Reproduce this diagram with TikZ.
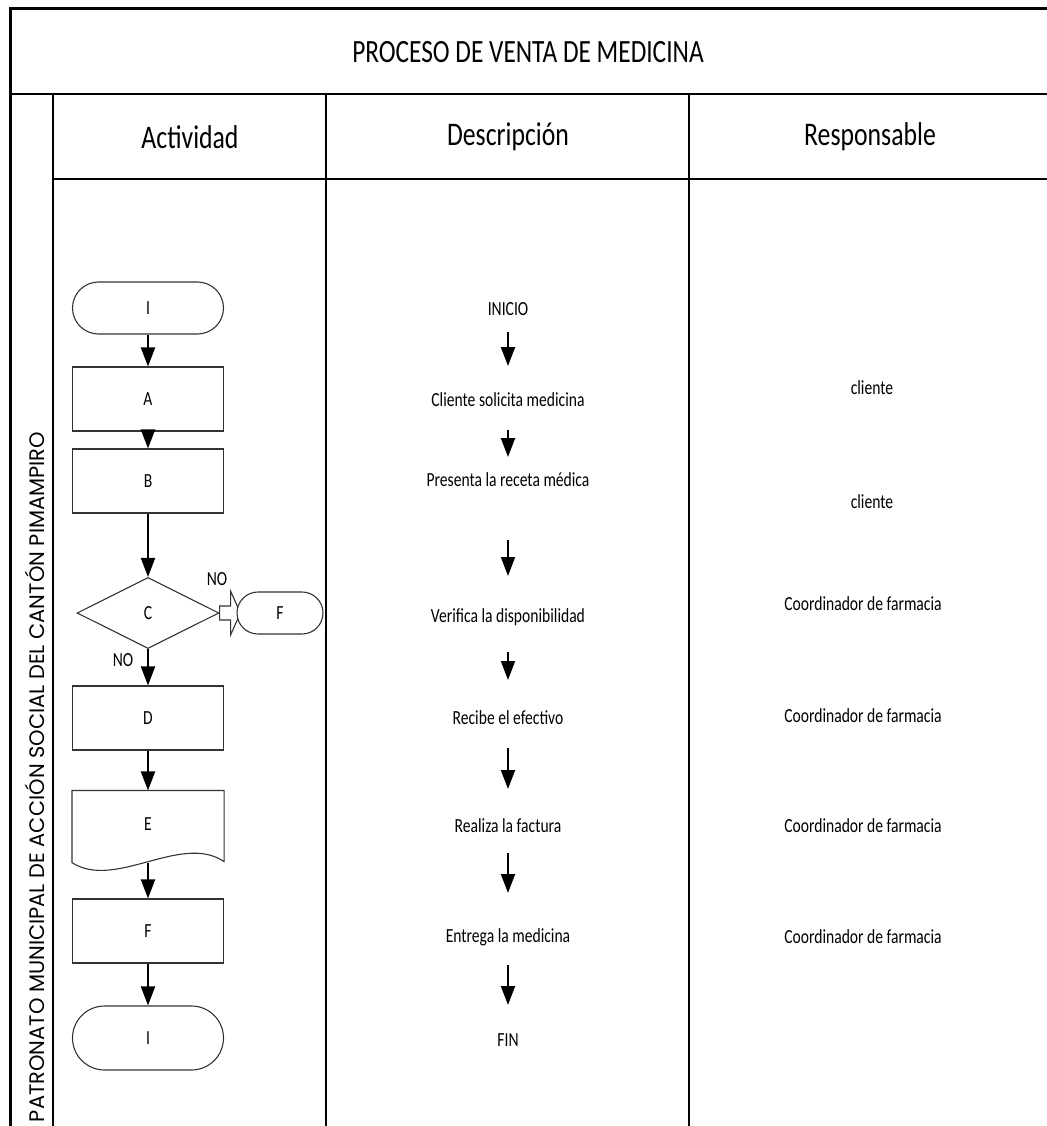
\documentclass[tikz,border=0pt]{standalone}
\usepackage{fontspec}
\setmainfont[FakeStretch=0.78]{Carlito}
\newfontfamily\sidefont{Poppins}
\usetikzlibrary{arrows.meta,shapes.geometric,calc}
\pgfdeclarelayer{bg}
\pgfsetlayers{bg,main}
\begin{document}
\begin{tikzpicture}[x=1pt,y=-1pt,
  grid/.style={line width=2pt,draw=black},
  shapeline/.style={draw=black!80,line width=1.1pt},
  procbox/.style={shapeline,fill=white,minimum width=151pt,minimum height=64pt,inner sep=0pt,font=\fontsize{20}{24}\selectfont},
  termbox/.style={procbox,rounded corners=#1},
  flow/.style={line width=2pt,-{Triangle[length=19pt,width=14pt]}},
  small/.style={inner sep=1pt,font=\fontsize{20}{24}\selectfont},
  head/.style={inner sep=1pt,font=\fontsize{33}{38}\selectfont}]
\useasboundingbox (0,0) rectangle (1046,1126);

% table frame
\draw[line width=3pt] (10,1130) -- (10,9) -- (1050,9);
\draw[grid] (10,94) -- (1050,94);
\draw[grid] (53,94) -- (53,1130);
\draw[grid,line width=1.7pt] (53,179) -- (1050,179);
\draw[grid] (326,94) -- (326,1130);
\draw[grid] (689,94) -- (689,1130);

% titles
\node[head,font=\fontsize{32.5}{38}\selectfont] (title) at (528,52) {PROCESO DE VENTA DE MEDICINA};
\node[head] (hact) at (190,137) {Actividad};
\node[head] (hdesc) at (508,137) {Descripción};
\node[head] (hresp) at (870,137) {Responsable};

% side label
\node[rotate=90,inner sep=0pt] (side) at (35,777)
  {\resizebox{690pt}{!}{\sidefont PATRONATO MUNICIPAL DE ACCIÓN SOCIAL DEL CANTÓN PIMAMPIRO}};

% flowchart
\node[termbox=26pt,minimum height=52pt] (I1) at (148,308) {I};
\node[procbox] (A) at (148,399) {A};
\node[procbox] (B) at (148,481) {B};
\node[shapeline,diamond,aspect=2,minimum width=142pt,minimum height=71pt,inner sep=0pt,
      font=\fontsize{20}{24}\selectfont] (C) at (148,613) {C};
\node[termbox=21pt,minimum width=86pt,minimum height=42pt] (Fend) at (280,613) {F};
\node[procbox] (D) at (148,718) {D};
\node[procbox,draw=none,fill=none,minimum height=71pt] (E) at (148,826.5) {\raisebox{4.5pt}{E}};
\node[procbox] (F) at (148,931) {F};
\node[termbox=32pt] (I2) at (148,1038) {I};

% document symbol outline for E
\draw[shapeline] (E.south west) -- (E.north west) -- (E.north east) -- ($(E.south east)+(0,-1)$)
  .. controls ($(E.south east)+(-43,-30)$) and ($(E.south west)+(43,28)$) .. (E.south west) -- cycle;

% hollow block arrow from the decision to the exit terminator
\begin{pgfonlayer}{bg}
\draw[shapeline,fill=white]
  ($(C.east)+(0,-7)$) -- ($(C.east)+(11,-7)$) -- ($(C.east)+(11,-22)$)
  -- ($(Fend.west)+(4,0)$)
  -- ($(C.east)+(11,22)$) -- ($(C.east)+(11,7)$) -- ($(C.east)+(0,7)$) -- cycle;
\end{pgfonlayer}
\node[small] (no1) at (217,579) {NO};
\node[small] (no2) at (123,660) {NO};

\draw[flow] (I1) -- (A);
\draw[flow] (A) -- (B);
\draw[flow] (B) -- (C);
\draw[flow] (C) -- (D);
\draw[flow] (D) -- (E);
\draw[flow] (E.south) -- (F);
\draw[flow] (F) -- (I2);

% description column
\node[small] (d0) at (508,309) {INICIO};
\node[small] (d1) at (508,400) {Cliente solicita medicina};
\node[small] (d2) at (508,480) {Presenta la receta médica};
\node[small] (d3) at (508,617) {Verifica la disponibilidad};
\node[small] (d4) at (508,718) {Recibe el efectivo};
\node[small] (d5) at (508,826) {Realiza la factura};
\node[small] (d6) at (508,937) {Entrega la medicina};
\node[small] (d7) at (508,1040) {FIN};

\coordinate (a1s) at (508,332); \coordinate (a1e) at (508,366);
\coordinate (a2s) at (508,430); \coordinate (a2e) at (508,457);
\coordinate (a3s) at (508,540); \coordinate (a3e) at (508,576);
\coordinate (a4s) at (508,652); \coordinate (a4e) at (508,680);
\coordinate (a5s) at (508,748); \coordinate (a5e) at (508,789);
\coordinate (a6s) at (508,853); \coordinate (a6e) at (508,893);
\coordinate (a7s) at (508,965); \coordinate (a7e) at (508,1005);
\foreach \k in {1,...,7} \draw[flow] (a\k s) -- (a\k e);

% responsible column
\node[small] (r1) at (872,388) {cliente};
\node[small] (r2) at (872,502) {cliente};
\node[small] (r3) at (863,604) {Coordinador de farmacia};
\node[small] (r4) at (863,716) {Coordinador de farmacia};
\node[small] (r5) at (863,826) {Coordinador de farmacia};
\node[small] (r6) at (863,937) {Coordinador de farmacia};
\end{tikzpicture}
\end{document}
